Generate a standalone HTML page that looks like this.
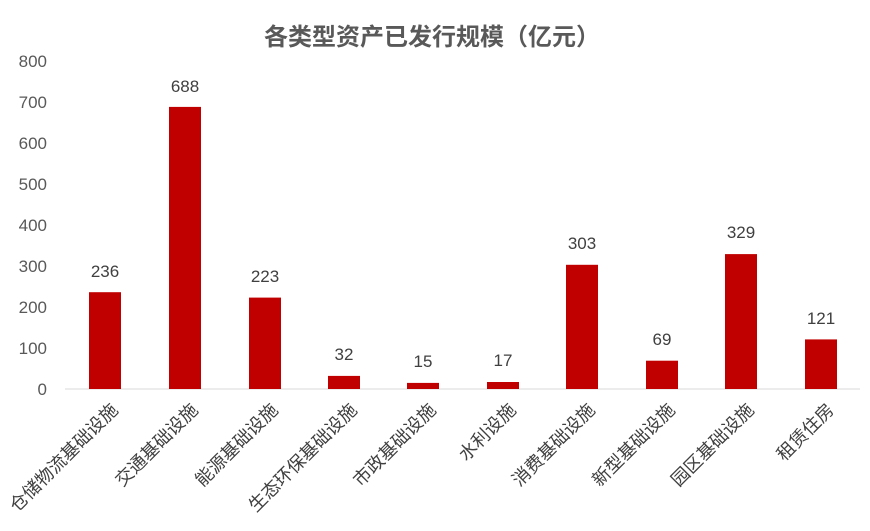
<!DOCTYPE html>
<html><head><meta charset="utf-8"><style>body{margin:0;background:#fff}</style></head><body>
<svg width="870" height="526" xmlns="http://www.w3.org/2000/svg" font-family="'Liberation Sans','Noto Sans CJK SC',sans-serif">
<text x="432" y="45" text-anchor="middle" font-size="24" font-weight="bold" fill="#595959">各类型资产已发行规模（亿元）</text>
<g font-size="17" fill="#595959" text-anchor="end">
<text x="47" y="395">0</text><text x="47" y="354">100</text><text x="47" y="313">200</text><text x="47" y="272">300</text><text x="47" y="231">400</text><text x="47" y="190">500</text><text x="47" y="149">600</text><text x="47" y="108">700</text><text x="47" y="67">800</text>
</g>
<line x1="65" y1="389" x2="860" y2="389" stroke="#d9d9d9" stroke-width="1"/>
<g fill="#C00000">
<rect x="89" y="292.2" width="32" height="96.8"/>
<rect x="169" y="106.9" width="32" height="282.1"/>
<rect x="249" y="297.6" width="32" height="91.4"/>
<rect x="328" y="375.9" width="32" height="13.1"/>
<rect x="407" y="382.9" width="32" height="6.1"/>
<rect x="487" y="382" width="32" height="7"/>
<rect x="566" y="264.8" width="32" height="124.2"/>
<rect x="646" y="360.7" width="32" height="28.3"/>
<rect x="725" y="254.1" width="32" height="134.9"/>
<rect x="805" y="339.4" width="32" height="49.6"/>
</g>
<g font-size="17" fill="#404040" text-anchor="middle">
<text x="105" y="277">236</text><text x="185" y="92">688</text><text x="265" y="282">223</text><text x="344" y="360">32</text><text x="423" y="367">15</text><text x="503" y="366">17</text><text x="582" y="249">303</text><text x="662" y="345">69</text><text x="741" y="238">329</text><text x="821" y="324">121</text>
</g>
<g font-size="18" fill="#404040" text-anchor="end">
<text transform="translate(119,411) rotate(-45)">仓储物流基础设施</text>
<text transform="translate(199,411) rotate(-45)">交通基础设施</text>
<text transform="translate(279,411) rotate(-45)">能源基础设施</text>
<text transform="translate(358,411) rotate(-45)">生态环保基础设施</text>
<text transform="translate(437,411) rotate(-45)">市政基础设施</text>
<text transform="translate(517,411) rotate(-45)">水利设施</text>
<text transform="translate(596,411) rotate(-45)">消费基础设施</text>
<text transform="translate(676,411) rotate(-45)">新型基础设施</text>
<text transform="translate(755,411) rotate(-45)">园区基础设施</text>
<text transform="translate(835,411) rotate(-45)">租赁住房</text>
</g>
</svg>
</body></html>
